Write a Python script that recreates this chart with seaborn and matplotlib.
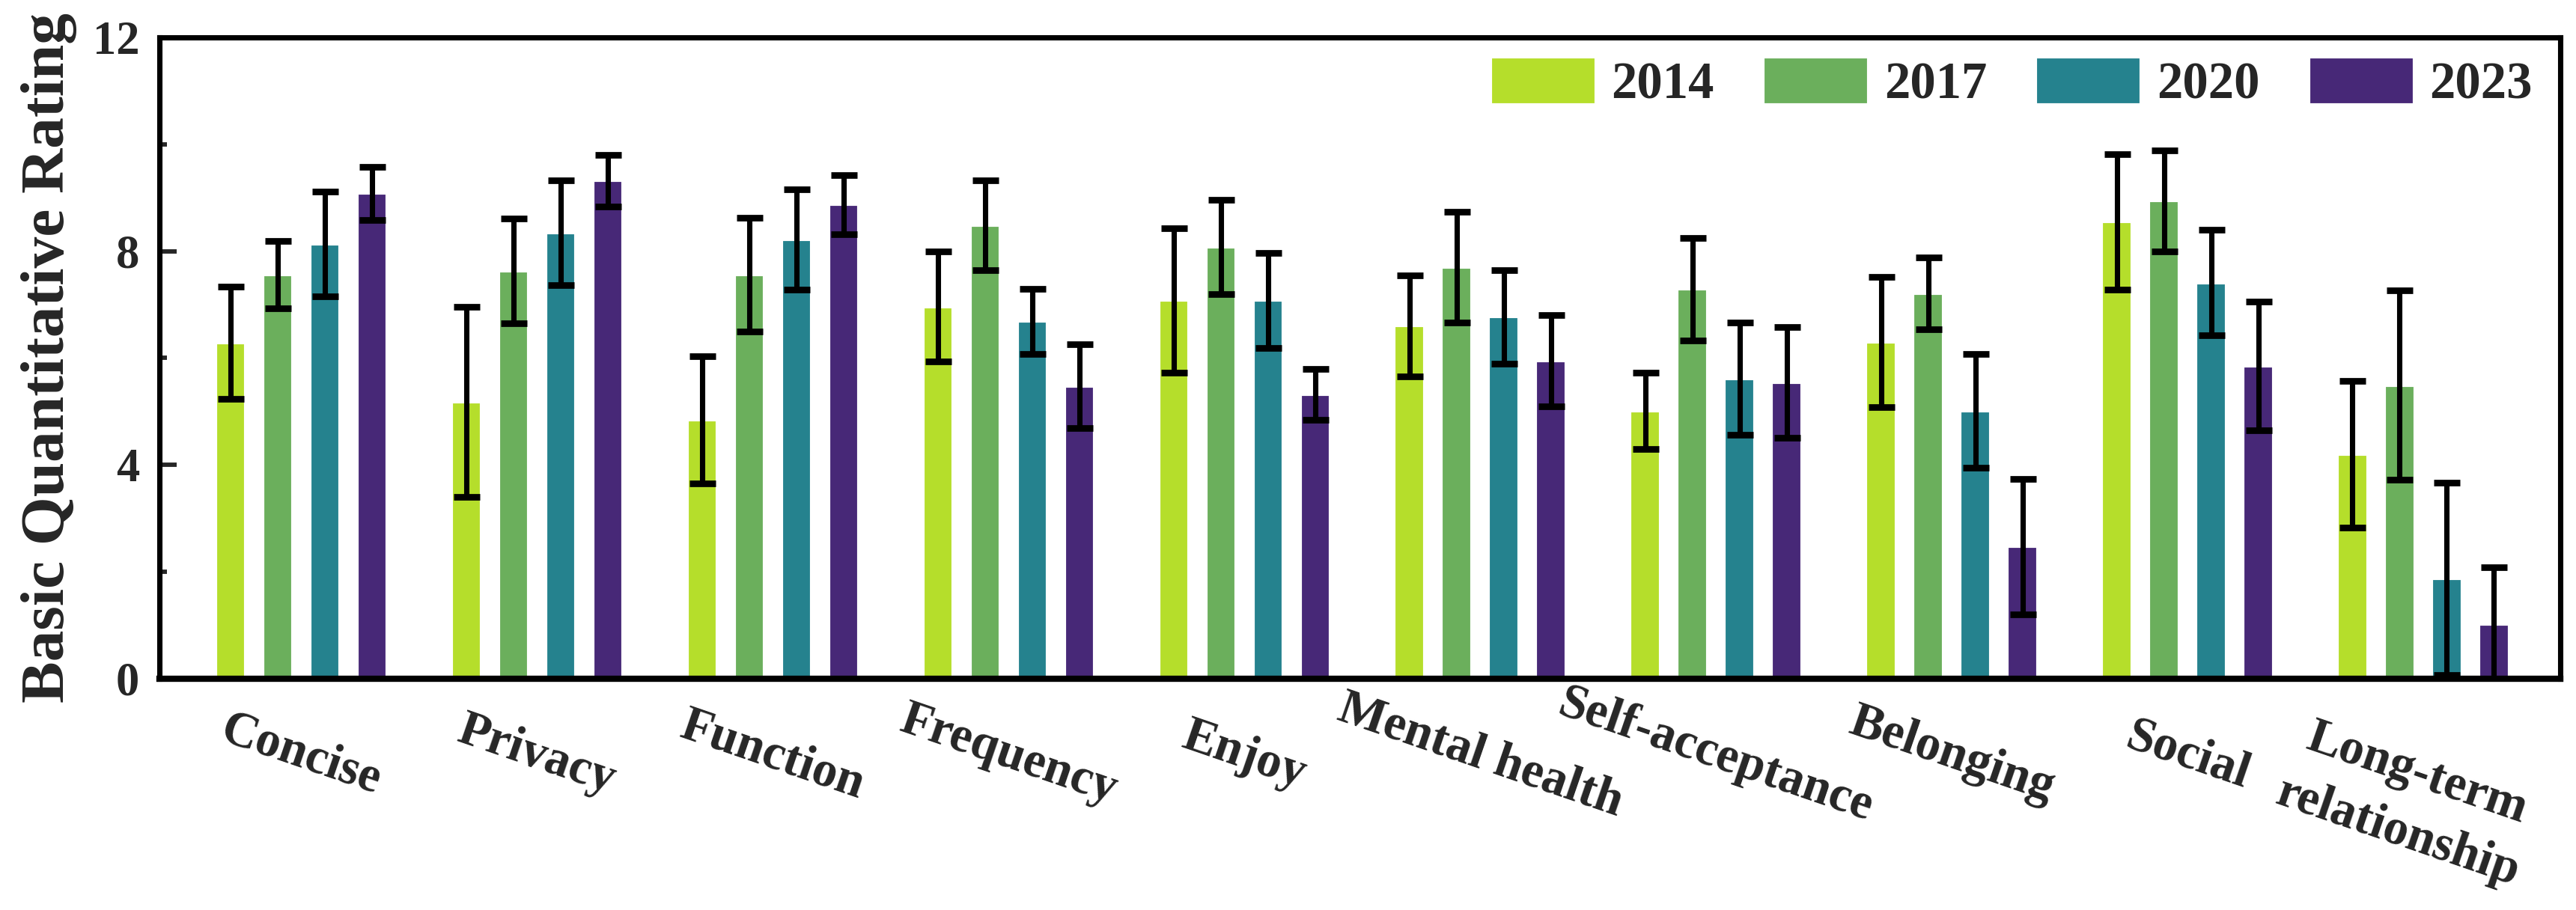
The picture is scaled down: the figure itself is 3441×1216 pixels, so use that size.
import matplotlib
matplotlib.use("Agg")
import matplotlib.pyplot as plt
import matplotlib.transforms as mtransforms
import numpy as np
import pandas as pd
import seaborn as sns

# values
categories = ["Concise", "Privacy", "Function", "Frequency", "Enjoy",
              "Mental health", "Self-acceptance", "Belonging", "Social",
              "Long-term\nrelationship"]
years = ["2014", "2017", "2020", "2023"]

mean_2014 = [6.29, 5.18, 4.84, 6.96, 7.08, 6.60, 5.01, 6.30, 8.55, 4.20]
mean_2017 = [7.56, 7.63, 7.56, 8.48, 8.08, 7.70, 7.29, 7.21, 8.94, 5.49]
mean_2020 = [8.14, 8.34, 8.22, 6.69, 7.08, 6.77, 5.61, 5.01, 7.41, 1.87]
mean_2023 = [9.08, 9.32, 8.87, 5.47, 5.32, 5.95, 5.54, 2.47, 5.85, 1.02]

err_2014 = [1.05, 1.78, 1.19, 1.03, 1.35, 0.95, 0.72, 1.22, 1.27, 1.37]
err_2017 = [0.63, 0.98, 1.06, 0.84, 0.88, 1.04, 0.96, 0.67, 0.95, 1.77]
err_2020 = [0.98, 0.98, 0.94, 0.61, 0.89, 0.88, 1.05, 1.07, 0.99, 1.80]
err_2023 = [0.50, 0.48, 0.55, 0.78, 0.48, 0.86, 1.04, 1.27, 1.21, 1.06]

colors = ["#B5DE2B", "#6BAF5C", "#25828E", "#472877"]

means = [mean_2014, mean_2017, mean_2020, mean_2023]
errs = [err_2014, err_2017, err_2020, err_2023]

df = pd.DataFrame({
    "category": categories * len(years),
    "year": [y for y in years for _ in categories],
    "rating": [v for m in means for v in m],
})

sns.set_theme(style="white")
plt.rcParams["font.family"] = ["Liberation Serif", "DejaVu Serif"]
plt.rcParams["font.weight"] = "bold"
plt.rcParams["axes.labelweight"] = "bold"

fig = plt.figure(figsize=(3441 / 300, 1216 / 300), dpi=300)
ax = fig.add_axes([0.0620, 0.2545, 0.9318, 0.7043])

sns.barplot(data=df, x="category", y="rating", hue="year", order=categories,
            hue_order=years, palette=colors, saturation=1, width=0.8, gap=0.36,
            errorbar=None, legend=False, ax=ax)

# error bars on top of the seaborn bars
for container, err in zip(ax.containers, errs):
    xs = [b.get_x() + b.get_width() / 2 for b in container]
    ys = [b.get_height() for b in container]
    ax.errorbar(xs, ys, yerr=err, fmt="none", ecolor="black", elinewidth=1.7,
                capsize=4.2, capthick=2.1, zorder=3)

ax.set_xlim(-0.60, 9.58)
ax.set_ylim(0, 12)
ax.set_yticks([0, 4, 8, 12])
ax.set_yticks([2, 6, 10], minor=True)
ax.tick_params(axis="y", which="major", direction="in", length=5.6, width=1.4,
               labelsize=15, pad=6.5, left=True, right=False)
ax.tick_params(axis="y", which="minor", direction="in", length=2.3, width=1.4,
               left=True, right=False)
ax.tick_params(axis="x", length=0, pad=24.7, labelsize=16)

for lab in ax.get_yticklabels():
    lab.set_fontweight("bold")

ax.set_xticks(range(len(categories)))
ax.set_xticklabels(categories, rotation=-19, ha="center", va="center",
                   fontweight="bold")
# the two-line label sits with its first line level with the others
last = ax.get_xticklabels()[-1]
last.set_linespacing(1.45)
last.set_transform(last.get_transform() + mtransforms.ScaledTranslation(
    -21 / 300, -64 / 300, fig.dpi_scale_trans))

ax.set_xlabel("")
ax.set_ylabel("Basic Quantitative Rating", fontsize=20, fontweight="bold",
              labelpad=5)

for side, spine in ax.spines.items():
    spine.set_visible(True)
    spine.set_color("black")
    spine.set_linewidth(2.0 if side == "bottom" else 1.7)

ax.legend(handles=ax.containers[:4], labels=years, loc="upper right",
          bbox_to_anchor=(0.9885, 0.970), ncol=4, frameon=False,
          borderpad=0, borderaxespad=0, handlelength=2.05, handleheight=1.05,
          handletextpad=0.3, columnspacing=0.95,
          prop={"family": ["Liberation Serif"], "weight": "bold", "size": 16.5})

fig.savefig("out.png", dpi=300)
